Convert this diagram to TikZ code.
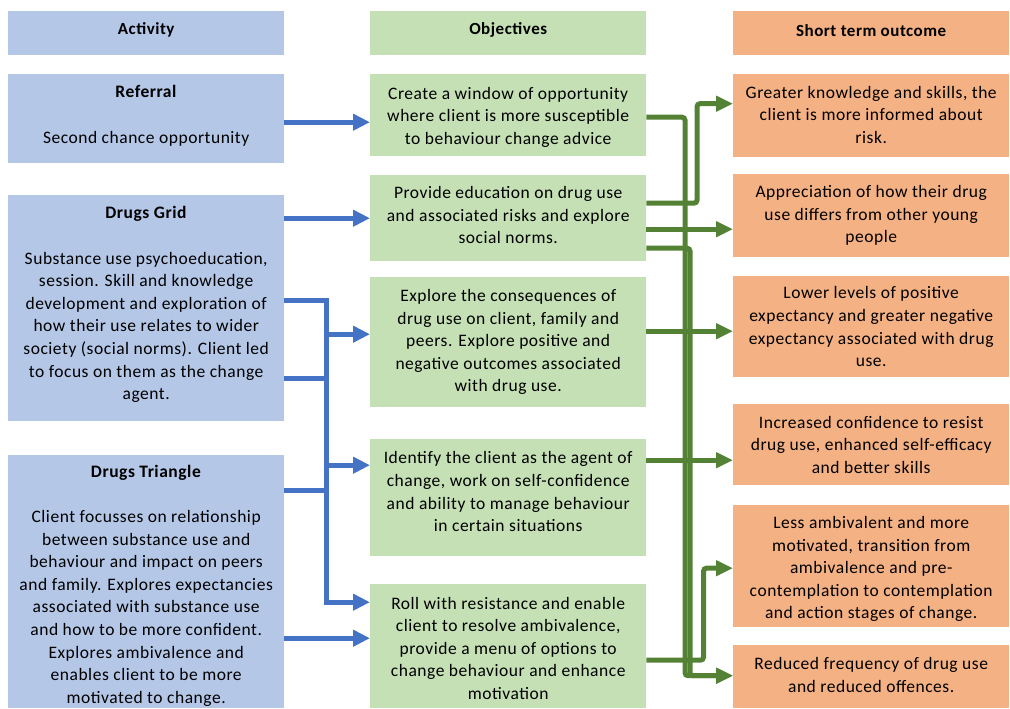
\documentclass[tikz,border=0pt]{standalone}
\usepackage{fontspec}
\setmainfont{Carlito}[LetterSpace=3]
\usetikzlibrary{arrows.meta,calc}
\definecolor{actfill}{HTML}{B4C7E7}
\definecolor{objfill}{HTML}{C5E0B4}
\definecolor{outfill}{HTML}{F4B183}
\definecolor{bluel}{HTML}{4472C4}
\definecolor{greenl}{HTML}{548235}
\begin{document}
\begin{tikzpicture}[x=1pt,y=-1pt,
  box/.style={inner sep=0pt, anchor=north west, minimum width=276pt},
  actbox/.style={box, fill=actfill},
  objbox/.style={box, fill=objfill},
  outbox/.style={box, fill=outfill},
  txt/.style={inner sep=0pt, align=center, font=\fontsize{17.5}{22.6}\selectfont, text=black},
  hdrtxt/.style={txt, font=\fontsize{17}{20}\selectfont\bfseries},
  bline/.style={draw=bluel, line width=5pt},
  gline/.style={draw=greenl, line width=5pt, rounded corners=3pt},
  btip/.style={-{Triangle[length=17pt,width=16pt]}},
  gtip/.style={-{Triangle[length=17pt,width=15pt]}}
]
\useasboundingbox (0,0) rectangle (1010,709);
% headers
\node[actbox, minimum height=44pt] (hact) at (8,11) {};
\node[objbox, minimum height=44pt] (hobj) at (370,11) {};
\node[outbox, minimum height=44pt] (hout) at (733,11) {};
\node[hdrtxt] (hactt) at ($(hact.center)+(0,-3)$) {Activity};
\node[hdrtxt] (hobjt) at ($(hobj.center)+(0,-3)$) {Objectives};
\node[hdrtxt] (houtt) at ($(hout.center)+(0,-3)$) {Short term outcome};
% activity boxes
\node[actbox, minimum height=89pt] (ref) at (8,74) {};
\node[actbox, minimum height=226pt] (grid) at (8,195) {};
\node[actbox, minimum height=253pt] (tri) at (8,455) {};
\node[txt] (reft) at ($(ref.center)+(0,-3)$) {\textbf{Referral}\\[22.6pt]Second chance opportunity};
\node[txt] (gridt) at ($(grid.center)+(0,-3.5)$) {\textbf{Drugs Grid}\\[22.6pt]Substance use psychoeducation,\\session. Skill and knowledge\\development and exploration of\\how their use relates to wider\\society (social norms). Client led\\to focus on them as the change\\agent.};
\node[txt] (trit) at ($(tri.center)+(0,4)$) {\textbf{Drugs Triangle}\\[22.6pt]Client focusses on relationship\\between substance use and\\behaviour and impact on peers\\and family. Explores expectancies\\associated with substance use\\and how to be more confident.\\Explores ambivalence and\\enables client to be more\\motivated to change.};
% objectives
\node[objbox, minimum height=82pt] (o1) at (370,74) {};
\node[objbox, minimum height=86pt] (o2) at (370,175) {};
\node[objbox, minimum height=130pt] (o3) at (370,277) {};
\node[objbox, minimum height=117pt] (o4) at (370,439) {};
\node[objbox, minimum height=124pt] (o5) at (370,584) {};
\node[txt] (o1t) at ($(o1.center)+(0,2)$) {Create a window of opportunity\\where client is more susceptible\\to behaviour change advice};
\node[txt] (o2t) at ($(o2.center)+(0,-3)$) {Provide education on drug use\\and associated risks and explore\\social norms.};
\node[txt] (o3t) at (o3.center) {Explore the consequences of\\drug use on client, family and\\peers. Explore positive and\\negative outcomes associated\\with drug use.};
\node[txt] (o4t) at ($(o4.center)+(0,-6)$) {Identify the client as the agent of\\change, work on self-confidence\\and ability to manage behaviour\\in certain situations};
\node[txt] (o5t) at ($(o5.center)+(0,2)$) {Roll with resistance and enable\\client to resolve ambivalence,\\provide a menu of options to\\change behaviour and enhance\\motivation};
% outcomes
\node[outbox, minimum height=83pt] (s1) at (733,74) {};
\node[outbox, minimum height=83pt] (s2) at (733,174) {};
\node[outbox, minimum height=101pt] (s3) at (733,276) {};
\node[outbox, minimum height=81pt] (s4) at (733,404) {};
\node[outbox, minimum height=122pt] (s5) at (733,505) {};
\node[outbox, minimum height=63pt] (s6) at (733,645) {};
\node[txt] (s1t) at ($(s1.center)+(0,-1)$) {Greater knowledge and skills, the\\client is more informed about\\risk.};
\node[txt] (s2t) at (s2.center) {Appreciation of how their drug\\use differs from other young\\people};
\node[txt] (s3t) at (s3.center) {Lower levels of positive\\expectancy and greater negative\\expectancy associated with drug\\use.};
\node[txt] (s4t) at (s4.center) {Increased confidence to resist\\drug use, enhanced self-efficacy\\and better skills};
\node[txt] (s5t) at ($(s5.center)+(0,3)$) {Less ambivalent and more\\motivated, transition from\\ambivalence and pre-\\contemplation to contemplation\\and action stages of change.};
\node[txt] (s6t) at ($(s6.center)+(0,-2)$) {Reduced frequency of drug use\\and reduced offences.};

% blue connectors
\coordinate (b1) at ($(ref.east)+(0,3.5)$);
\draw[bline,btip] (b1) -- (b1 -| o1.west);
\coordinate (b2) at ($(grid.east)+(0,-90)$);
\draw[bline,btip] (b2) -- (b2 -| o2.west);
\coordinate (bus) at ($(o5.west)+(-44,0)$);
\coordinate (bg1) at ($(grid.east)+(0,-8)$);
\coordinate (bg2) at ($(grid.east)+(0,70)$);
\coordinate (bt1) at ($(tri.east)+(0,-91.5)$);
\coordinate (bt2) at ($(tri.east)+(0,56.5)$);
\coordinate (bo3) at ($(o3.west)+(0,-8)$);
\coordinate (bo4) at ($(o4.west)+(0,-32.5)$);
\coordinate (bo5) at ($(o5.west)+(0,-44)$);
\draw[bline,btip] (bg1) -| (bus |- bo5) -- (bo5);
\draw[bline] (bg2) -- (bg2 -| bus);
\draw[bline] (bt1) -- (bt1 -| bus);
\draw[bline,btip] (bus |- bo3) -- (bo3);
\draw[bline,btip] (bus |- bo4) -- (bo4);
\draw[bline,btip] (bt2) -- (bt2 -| o5.west);

% green connectors
\coordinate (g1) at ($(o1.east)+(0,2)$);
\coordinate (g2a) at ($(o2.east)+(0,-15)$);
\coordinate (g2b) at ($(o2.east)+(0,11)$);
\coordinate (g2c) at ($(o2.east)+(0,30)$);
\coordinate (g3) at ($(o3.east)+(0,-11)$);
\coordinate (g4) at ($(o4.east)+(0,-37.5)$);
\coordinate (g5) at ($(o5.east)+(0,14)$);
\coordinate (e1) at ($(s1.west)+(0,-12)$);
\coordinate (e5) at ($(s5.west)+(0,2)$);
\coordinate (e6) at ($(s6.west)+(0,-1)$);
\draw[gline,gtip] (g1) -| ($(e6)+(-48,0)$) -- (e6);
\draw[gline,gtip] (g2c) -| ($(e6)+(-43,0)$) -- (e6);
\draw[gline,gtip] (g2a) -| ($(e1)+(-36,0)$) -- (e1);
\draw[gline,gtip] (g2b) -- (g2b -| s2.west);
\draw[gline,gtip] (g3) -- (g3 -| s3.west);
\draw[gline,gtip] (g4) -- (g4 -| s4.west);
\draw[gline,gtip] (g5) -| ($(e5)+(-29.5,0)$) -- (e5);
\end{tikzpicture}
\end{document}
